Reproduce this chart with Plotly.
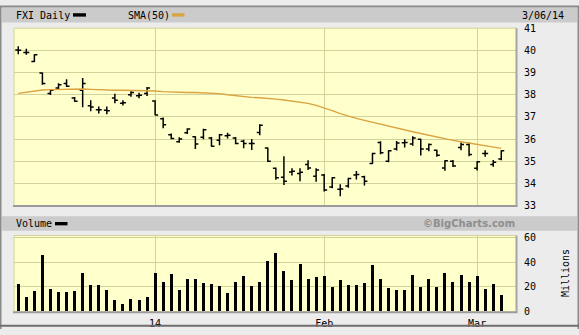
import plotly.graph_objects as go

W, H = 579, 335


def fx(px):
    return px / W


def fy(py):
    return 1 - py / H


dates = [
    "2013-12-06", "2013-12-09", "2013-12-10", "2013-12-11", "2013-12-12", "2013-12-13",
    "2013-12-16", "2013-12-17", "2013-12-18", "2013-12-19", "2013-12-20", "2013-12-23",
    "2013-12-24", "2013-12-26", "2013-12-27", "2013-12-30", "2013-12-31",
    "2014-01-02", "2014-01-03", "2014-01-06", "2014-01-07", "2014-01-08", "2014-01-09",
    "2014-01-10", "2014-01-13", "2014-01-14", "2014-01-15", "2014-01-16", "2014-01-17",
    "2014-01-21", "2014-01-22", "2014-01-23", "2014-01-24", "2014-01-27", "2014-01-28",
    "2014-01-29", "2014-01-30", "2014-01-31",
    "2014-02-03", "2014-02-04", "2014-02-05", "2014-02-06", "2014-02-07", "2014-02-10",
    "2014-02-11", "2014-02-12", "2014-02-13", "2014-02-14", "2014-02-18", "2014-02-19",
    "2014-02-20", "2014-02-21", "2014-02-24", "2014-02-25", "2014-02-26", "2014-02-27",
    "2014-02-28",
    "2014-03-03", "2014-03-04", "2014-03-05", "2014-03-06",
]

opens = [
    40.02, 39.90, 39.50, 38.98, 38.05, 38.30, 38.50, 37.85, 38.20, 37.50,
    37.32, 37.30, 37.85, 37.62, 38.00, 37.95, 38.05, 37.72, 36.92, 36.20,
    35.88, 36.28, 36.10, 36.08, 36.05, 35.95, 36.15, 36.05, 35.90, 35.80,
    36.30, 35.60, 34.68, 34.28, 34.52, 34.45, 34.85, 34.32, 34.38, 33.84,
    33.74, 33.88, 34.38, 34.30, 34.90, 35.85, 35.00, 35.55, 35.83, 35.78,
    35.99, 35.55, 35.50, 34.70, 35.00, 35.62, 35.75, 34.68, 35.35, 34.85,
    35.10,
]
highs = [
    40.19, 40.07, 39.83, 39.00, 38.26, 38.52, 38.70, 37.90, 38.75, 37.75,
    37.47, 37.47, 38.04, 37.75, 38.16, 38.09, 38.35, 37.75, 36.97, 36.25,
    36.08, 36.49, 36.13, 36.46, 36.09, 36.23, 36.29, 36.09, 35.97, 36.00,
    36.67, 35.62, 34.72, 35.23, 34.68, 34.68, 35.04, 34.68, 34.42, 34.28,
    33.96, 34.25, 34.56, 34.35, 35.38, 35.90, 35.49, 35.91, 35.99, 36.13,
    36.01, 35.80, 35.52, 35.05, 35.06, 35.84, 35.84, 35.00, 35.50, 35.06,
    35.50,
]
lows = [
    39.83, 39.80, 39.47, 38.45, 37.99, 38.26, 38.35, 37.68, 37.43, 37.25,
    37.15, 37.12, 37.61, 37.51, 37.91, 37.84, 37.94, 37.07, 36.49, 35.99,
    35.83, 36.23, 35.55, 35.99, 35.65, 35.72, 36.03, 35.77, 35.59, 35.51,
    36.17, 34.97, 34.17, 33.93, 34.36, 34.10, 34.61, 34.07, 33.64, 33.78,
    33.42, 33.81, 34.18, 33.91, 34.87, 35.32, 34.95, 35.48, 35.62, 35.70,
    35.26, 35.45, 35.20, 34.57, 34.74, 35.50, 35.22, 34.58, 35.20, 34.75,
    35.05,
]
closes = [
    40.00, 39.90, 39.80, 38.50, 38.20, 38.45, 38.38, 37.70, 38.50, 37.45,
    37.32, 37.28, 37.75, 37.64, 38.10, 37.98, 38.30, 37.08, 36.64, 36.02,
    36.00, 36.45, 35.78, 36.42, 35.68, 36.20, 36.17, 35.80, 35.80, 35.80,
    36.62, 35.00, 34.25, 34.10, 34.55, 34.50, 34.70, 34.60, 33.70, 34.25,
    33.75, 34.22, 34.40, 34.10, 35.35, 35.38, 35.47, 35.82, 35.85, 36.05,
    35.55, 35.75, 35.27, 35.02, 34.78, 35.76, 35.30, 34.98, 35.35, 34.95,
    35.47,
]
sma50 = [
    38.06, 38.12, 38.18, 38.21, 38.23, 38.24, 38.25, 38.26, 38.26, 38.24,
    38.22, 38.21, 38.20, 38.20, 38.20, 38.20, 38.20, 38.17, 38.14, 38.12,
    38.11, 38.10, 38.10, 38.09, 38.08, 38.05, 38.00, 37.95, 37.91, 37.88,
    37.86, 37.84, 37.80, 37.76, 37.72, 37.67, 37.61, 37.52, 37.41, 37.28,
    37.15, 37.03, 36.93, 36.84, 36.75, 36.66, 36.57, 36.49, 36.41, 36.33,
    36.25, 36.17, 36.08, 36.00, 35.94, 35.88, 35.82, 35.75, 35.69, 35.63,
    35.58,
]
volume_millions = [
    21.8, 11.7, 16.6, 45.2, 17.9, 15.6, 15.6, 16.4, 31.2, 21.0,
    21.0, 17.1, 9.4, 5.5, 10.1, 9.4, 11.7, 31.2, 23.4, 30.4,
    17.1, 25.7, 25.7, 22.6, 21.8, 20.3, 14.8, 23.4, 28.1, 20.3,
    23.4, 40.5, 46.8, 32.7, 24.9, 38.2, 25.7, 27.3, 28.1, 19.5,
    24.9, 21.0, 21.0, 22.6, 37.4, 25.7, 18.7, 17.1, 17.1, 29.6,
    19.5, 25.7, 19.5, 31.2, 23.4, 29.6, 23.4, 28.1, 17.9, 21.8,
    13.2,
]

price_ticks = [33, 34, 35, 36, 37, 38, 39, 40, 41]
volume_ticks = [0, 20, 40, 60]
month_tick_dates = ["2014-01-02", "2014-02-03", "2014-03-03"]
month_tick_labels = ["14", "Feb", "Mar"]

ticker_label = "FXI Daily"
sma_label = "SMA(50)"
date_label = "3/06/14"
volume_label = "Volume"
brand_label = "©BigCharts.com"
units_label = "Millions"

BG = "#ececec"
BAR_BG = "#cbcbcb"
PLOT_BG = "#ffffcc"
GRID = "#d2d29a"
SMA_COLOR = "#d9a441"
MONO = "DejaVu Sans Mono"

fig = go.Figure()

fig.add_trace(go.Ohlc(
    x=dates, open=opens, high=highs, low=lows, close=closes,
    increasing=dict(line=dict(color="black", width=1.5)),
    decreasing=dict(line=dict(color="black", width=1.5)),
    tickwidth=0.37, xaxis="x", yaxis="y", showlegend=False,
))
fig.add_trace(go.Scatter(
    x=dates, y=sma50, mode="lines", line=dict(color=SMA_COLOR, width=1.4),
    xaxis="x", yaxis="y", showlegend=False,
))
fig.add_trace(go.Bar(
    x=dates, y=volume_millions, marker=dict(color="black", line=dict(width=0)),
    width=0.37, xaxis="x2", yaxis="y2", showlegend=False,
))

xr = [-0.53, 61.83]
axis_font = dict(family=MONO, size=10, color="black")

fig.update_layout(
    width=W, height=H,
    margin=dict(l=0, r=0, t=0, b=0),
    paper_bgcolor=BG, plot_bgcolor=PLOT_BG,
    xaxis=dict(
        domain=[fx(14), fx(516)], anchor="y", type="category",
        categoryorder="array", categoryarray=dates,
        range=xr, tickvals=month_tick_dates, ticktext=month_tick_labels,
        showticklabels=False, showgrid=True, gridcolor=GRID, gridwidth=1,
        zeroline=False, showline=False, ticks="", rangeslider=dict(visible=False),
        fixedrange=True,
    ),
    yaxis=dict(
        domain=[fy(207), fy(23)], anchor="x", side="right",
        range=[33, 41], tickvals=price_ticks, ticktext=[str(t) for t in price_ticks],
        showgrid=True, gridcolor=GRID, gridwidth=1, zeroline=False,
        ticks="", tickfont=axis_font, ticklabelstandoff=7,
    ),
    xaxis2=dict(
        domain=[fx(14), fx(516)], anchor="y2", type="category",
        categoryorder="array", categoryarray=dates,
        range=xr, tickvals=month_tick_dates, ticktext=month_tick_labels,
        showticklabels=True, showgrid=True, gridcolor=GRID, gridwidth=1,
        zeroline=False, showline=False, ticks="", tickfont=axis_font,
        tickangle=0, ticklabelstandoff=4,
    ),
    yaxis2=dict(
        domain=[fy(317), fy(238)], anchor="x2", side="right",
        range=[0, 61.5], tickvals=volume_ticks, ticktext=[str(t) for t in volume_ticks],
        showgrid=True, gridcolor=GRID, gridwidth=1, zeroline=False,
        ticks="", tickfont=axis_font, ticklabelstandoff=7,
    ),
    bargap=0,
)

shapes = []


def rect(x0, y0, x1, y1, fill, layer="below"):
    shapes.append(dict(type="rect", xref="paper", yref="paper",
                       x0=fx(x0), x1=fx(x1), y0=fy(y1), y1=fy(y0),
                       fillcolor=fill, line=dict(width=0), layer=layer))


def line(x0, y0, x1, y1, color, width=1, layer="above"):
    shapes.append(dict(type="line", xref="paper", yref="paper",
                       x0=fx(x0), x1=fx(x1), y0=fy(y0), y1=fy(y1),
                       line=dict(color=color, width=width), layer=layer))


# header bars
rect(2, 2, 577, 17, BAR_BG)
rect(2, 218, 577, 233, BAR_BG)
# outer frame
line(0.5, 0, 0.5, 335, "#8a8a8a", 2)
line(578.5, 0, 578.5, 335, "#8a8a8a", 2)
line(0, 0.5, 579, 0.5, "#8a8a8a", 2)
line(0, 331.5, 579, 331.5, "#6e6e6e", 2)
# plot frames
for top, bot in ((23, 207.5), (238, 317.5)):
    line(14, top, 516, top, GRID, 1)
    line(14, top, 14, bot, GRID, 1)
    line(13, bot, 517.5, bot, "#9a9a9a", 2)
    line(516.5, top, 516.5, bot, "#a5a5a5", 2)
# legend swatches
rect(73, 7.5, 86, 11, "black", "above")
rect(172, 7.5, 184.5, 11, SMA_COLOR, "above")
rect(55, 224, 67.5, 227.5, "black", "above")

fig.update_layout(shapes=shapes)

hdr_font = dict(family=MONO, size=10, color="black")
annotations = [
    dict(text=ticker_label, x=fx(14), y=fy(9.5), xanchor="left", yanchor="middle",
         font=hdr_font),
    dict(text=sma_label, x=fx(126), y=fy(9.5), xanchor="left", yanchor="middle",
         font=hdr_font),
    dict(text=date_label, x=fx(566), y=fy(9.5), xanchor="right", yanchor="middle",
         font=hdr_font),
    dict(text=volume_label, x=fx(14), y=fy(225.5), xanchor="left", yanchor="middle",
         font=hdr_font),
    dict(text="<b>" + brand_label + "</b>", x=fx(517), y=fy(225.5), xanchor="right",
         yanchor="middle", font=dict(family="DejaVu Sans", size=10, color="#8e8e8e")),
    dict(text=units_label, x=fx(565), y=fy(277), xanchor="center", yanchor="middle",
         textangle=-90, font=hdr_font),
]
for a in annotations:
    a.update(xref="paper", yref="paper", showarrow=False)
fig.update_layout(annotations=annotations)

fig.write_html("out.html")
